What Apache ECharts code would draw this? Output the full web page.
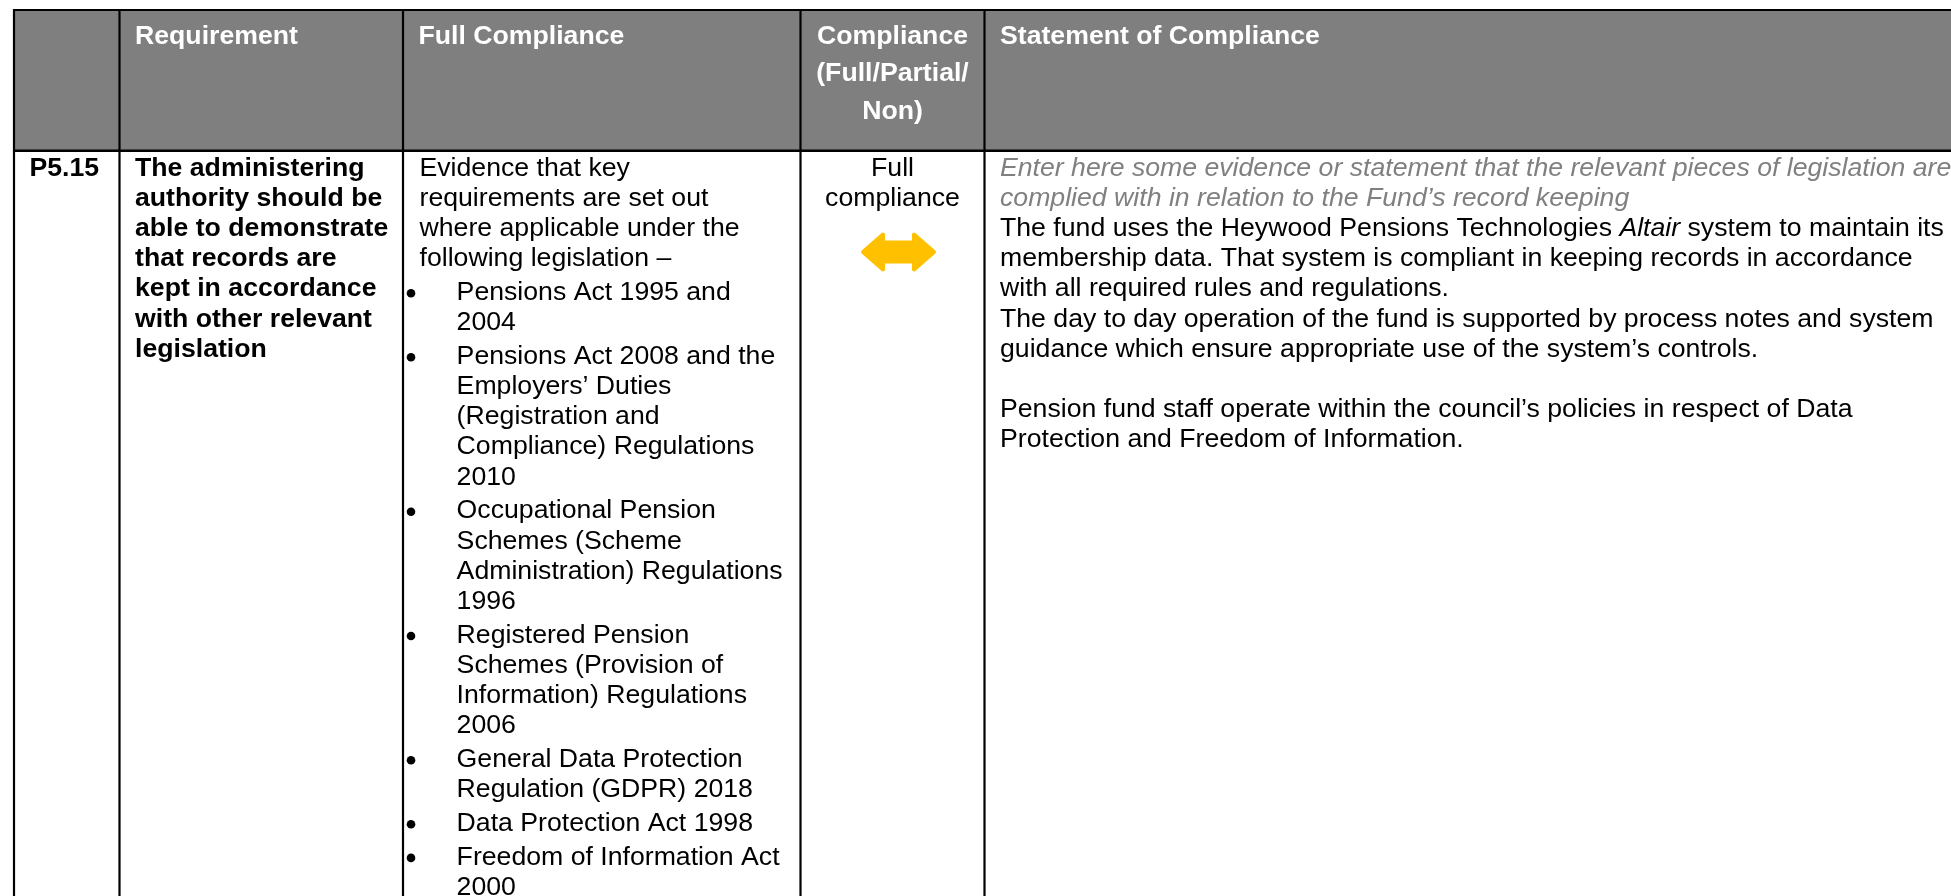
<!DOCTYPE html>
<html><head><meta charset="utf-8">
<script src="https://cdn.jsdelivr.net/npm/echarts@6/dist/echarts.min.js"></script>
<style>html,body{margin:0;padding:0;background:#fff}#c{width:1951px;height:896px}</style>
</head><body><div id="c"></div>
<script>
// ---------- content ----------
const headerLabels = [[], ['Requirement'], ['Full Compliance'], ['Compliance', '(Full/Partial/', 'Non)'], ['Statement of Compliance']];
const rowIds = ['P5.15'];
const requirementLines = ['The administering', 'authority should be', 'able to demonstrate', 'that records are', 'kept in accordance', 'with other relevant', 'legislation'];
const evidenceIntro = ['Evidence that key', 'requirements are set out', 'where applicable under the', 'following legislation –'];
const legislationItems = [
  ['Pensions Act 1995 and', '2004'],
  ['Pensions Act 2008 and the', 'Employers’ Duties', '(Registration and', 'Compliance) Regulations', '2010'],
  ['Occupational Pension', 'Schemes (Scheme', 'Administration) Regulations', '1996'],
  ['Registered Pension', 'Schemes (Provision of', 'Information) Regulations', '2006'],
  ['General Data Protection', 'Regulation (GDPR) 2018'],
  ['Data Protection Act 1998'],
  ['Freedom of Information Act', '2000']
];
const complianceStatus = ['Full', 'compliance'];
const statusIndicator = ['full'];
const guidanceLines = ['Enter here some evidence or statement that the relevant pieces of legislation are', 'complied with in relation to the Fund’s record keeping'];
const statementLines = [
  'The fund uses the Heywood Pensions Technologies *Altair* system to maintain its',
  'membership data. That system is compliant in keeping records in accordance',
  'with all required rules and regulations.',
  'The day to day operation of the fund is supported by process notes and system',
  'guidance which ensure appropriate use of the system’s controls.',
  '',
  'Pension fund staff operate within the council’s policies in respect of Data',
  'Protection and Freedom of Information.'
];

// ---------- layout ----------
const L = {
  W: 1951, H: 896,
  colEdges: [14, 119.5, 403, 800.5, 984.5, 2000],
  top: 10, headBottom: 150.7, bottom: 960,
  fs: 26.67, lh: 30.2, para: 3.5, headLh: 37.5, headBase: 45.5, bodyBase: 177.5,
  padL: 15.5, bulletX: 8, bulletTextX: 53.6
};
const FAMILY = '"Liberation Sans", Arial, sans-serif';
const fontOf = (bold, italic) => `${italic ? 'italic' : 'normal'} ${bold ? 'bold' : 'normal'} ${L.fs}px ${FAMILY}`;
const midShift = 0.3465 * L.fs;

// build text line items
const textItems = [];
const bullets = [];
headerLabels.forEach((lines, c) => lines.forEach((t, i) => {
  const center = c === 3;
  textItems.push({
    text: t, bold: true, color: '#ffffff', align: center ? 'center' : 'left',
    x: center ? (L.colEdges[c] + L.colEdges[c + 1]) / 2 : L.colEdges[c] + L.padL,
    base: L.headBase + i * L.headLh
  });
}));
rowIds.forEach(t => textItems.push({ text: t, bold: true, color: '#000', align: 'left', x: L.colEdges[0] + L.padL, base: L.bodyBase }));
requirementLines.forEach((t, i) => textItems.push({ text: t, bold: true, color: '#000', align: 'left', x: L.colEdges[1] + L.padL, base: L.bodyBase + i * L.lh }));
let y = L.bodyBase;
evidenceIntro.forEach((t, i) => { textItems.push({ text: t, color: '#000', align: 'left', x: L.colEdges[2] + L.padL + 1, base: y }); y += L.lh; });
legislationItems.forEach(item => {
  y += L.para;
  bullets.push({ x: L.colEdges[2] + L.bulletX, base: y });
  item.forEach(t => { textItems.push({ text: t, color: '#000', align: 'left', x: L.colEdges[2] + L.bulletTextX, base: y }); y += L.lh; });
});
complianceStatus.forEach((t, i) => textItems.push({ text: t, color: '#000', align: 'center', x: (L.colEdges[3] + L.colEdges[4]) / 2, base: L.bodyBase + i * L.lh }));
let y5 = L.bodyBase;
guidanceLines.forEach(t => { textItems.push({ text: t, italic: true, color: '#808080', align: 'left', x: L.colEdges[4] + L.padL, base: y5 }); y5 += L.lh; });
statementLines.forEach(t => { if (t) textItems.push({ text: t, rich: true, color: '#000', align: 'left', x: L.colEdges[4] + L.padL, base: y5 }); y5 += L.lh; });

function richify(t) {
  return t.split('*').map((s, i) => s ? `{${i % 2 ? 'i' : 'n'}|${s}}` : '').join('');
}

const chart = echarts.init(document.getElementById('c'), null, { renderer: 'canvas' });
chart.setOption({
  animation: false,
  backgroundColor: '#ffffff',
  grid: { left: 0, right: 0, top: 0, bottom: 0 },
  xAxis: { type: 'value', min: 0, max: L.W, show: false },
  yAxis: { type: 'value', min: 0, max: L.H, inverse: true, show: false },
  series: [
    { // table frame
      type: 'custom', clip: false, silent: true, data: [0],
      renderItem: (params, api) => {
        const ch = [];
        const tl = api.coord([L.colEdges[0], L.top]);
        const br = api.coord([L.colEdges[L.colEdges.length - 1], L.headBottom]);
        ch.push({ type: 'rect', shape: { x: tl[0], y: tl[1], width: br[0] - tl[0], height: br[1] - tl[1] }, style: { fill: '#7f7f7f' } });
        L.colEdges.slice(0, 5).forEach(x => {
          const a = api.coord([x, L.top]), b = api.coord([x, L.bottom]);
          ch.push({ type: 'line', shape: { x1: a[0], y1: a[1] - 1, x2: b[0], y2: b[1] }, style: { stroke: '#000', lineWidth: 2.2 } });
        });
        [[L.top, 2.2], [L.headBottom, 2.6]].forEach(([yy, w]) => {
          const a = api.coord([L.colEdges[0], yy]), b = api.coord([L.colEdges[5], yy]);
          ch.push({ type: 'line', shape: { x1: a[0] - 1, y1: a[1], x2: b[0], y2: b[1] }, style: { stroke: '#000', lineWidth: w } });
        });
        return { type: 'group', children: ch };
      }
    },
    { // text lines
      type: 'custom', clip: false, silent: true, data: textItems.map((d, i) => i),
      renderItem: (params, api) => {
        const d = textItems[params.dataIndex];
        const p = api.coord([d.x, d.base - midShift]);
        const style = { text: d.rich ? richify(d.text) : d.text, fill: d.color, font: fontOf(d.bold, d.italic), align: d.align, verticalAlign: 'middle' };
        if (d.rich) {
          style.rich = { n: { font: fontOf(false, false), fill: d.color }, i: { font: fontOf(false, true), fill: d.color } };
        }
        return { type: 'text', x: p[0], y: p[1], style };
      }
    },
    { // bullets
      type: 'custom', clip: false, silent: true, data: bullets.map((d, i) => i),
      renderItem: (params, api) => {
        const b = bullets[params.dataIndex];
        const p = api.coord([b.x, b.base - 8.5]);
        return { type: 'circle', shape: { cx: p[0], cy: p[1], r: 4.3 }, style: { fill: '#000' } };
      }
    },
    { // status indicator arrow
      type: 'custom', clip: false, silent: true, data: statusIndicator.map((d, i) => i),
      renderItem: (params, api) => {
        const cx = 898.5, cy = 252, hw = 35.5, hh = 17.5, head = 20, sh = 9.5;
        const pts = [[-hw, 0], [-hw + head, -hh], [-hw + head, -sh], [hw - head, -sh], [hw - head, -hh], [hw, 0], [hw - head, hh], [hw - head, sh], [-hw + head, sh], [-hw + head, hh]]
          .map(([dx, dy]) => api.coord([cx + dx, cy + dy]));
        return { type: 'polygon', shape: { points: pts }, style: { fill: '#FFC000', stroke: '#FFC000', lineWidth: 4, lineJoin: 'round' } };
      }
    }
  ]
});
</script>
</body></html>
